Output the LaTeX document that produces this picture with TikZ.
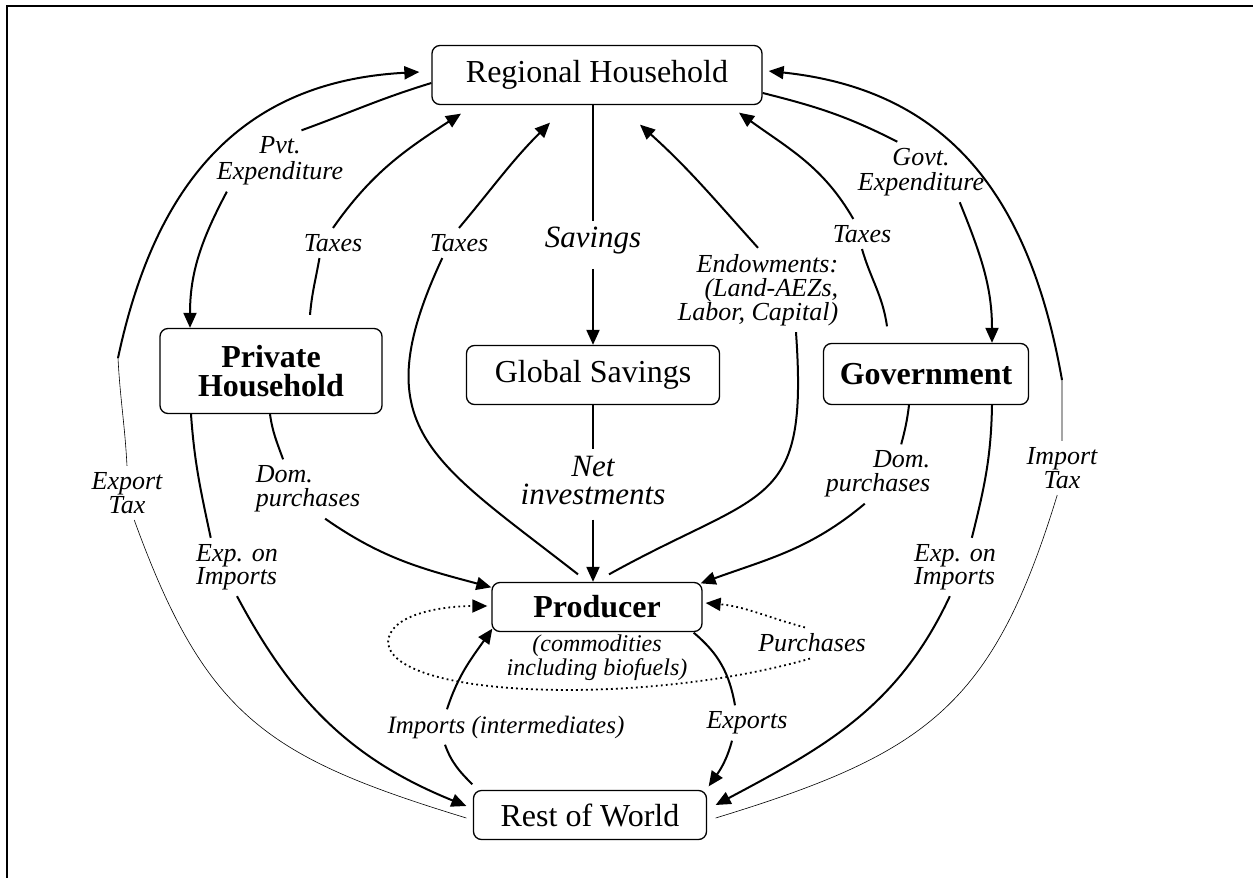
\documentclass[tikz,border=0pt]{standalone}
\usepackage{fontspec}
\setmainfont{Liberation Serif}
\usetikzlibrary{arrows.meta,positioning}
\tikzset{
    %Define standard arrow tip
    >={Triangle[length=7.5pt,width=6.5pt]},
    %Define style for boxes
    box/.style={
           rectangle, rounded corners=4pt,
           draw=black, line width=0.65pt,
           font=\fontsize{16}{14.5}\selectfont,
           align=center,
           inner sep=0pt},
    boldbox/.style={
           box,
           font=\fontsize{16}{14.5}\selectfont\bfseries},
    % Define style for labels on the flows
    lbl/.style={
           font=\itshape\fontsize{13}{12}\selectfont,
           align=center,
           inner sep=3pt},
    lbig/.style={
           lbl,
           font=\itshape\fontsize{15.5}{14}\selectfont},
    % Define arrow styles
    flow/.style={
           ->,
           line width=1pt},
    thinflow/.style={
           line width=0.3pt},
    dotflow/.style={
           ->,
           line width=0.9pt,
           dash pattern=on 0.9pt off 1.6pt}
}

\begin{document}
\begin{tikzpicture}[x=0.5pt, y=0.5pt]

\useasboundingbox (0,0) rectangle (1253,-878);
\draw[line width=0.8pt] (7,-878) -- (7,-6) -- (1253,-6);

%nodes
\node[box, minimum width=165pt, minimum height=29.5pt] (rh) at (597,-75) {Regional Household};
\node[boldbox, minimum width=111pt, minimum height=42.5pt] (ph) at (271,-371) {Private\\Household};
\node[box, minimum width=126.5pt, minimum height=29.5pt] (gs) at (593,-375) {Global Savings};
\node[boldbox, minimum width=102.5pt, minimum height=30.5pt] (gv) at (926,-374) {Government};
\node[boldbox, minimum width=105pt, minimum height=24.5pt] (pr) at (597,-607) {Producer};
\node[box, minimum width=116.5pt, minimum height=24.5pt] (rw) at (590,-815) {Rest of World};
\node[lbl, below=0pt of pr, inner sep=1pt, font=\itshape\fontsize{12}{11}\selectfont] (prnote) {(commodities\\including biofuels)};

%labels
\node[lbl, font=\itshape\fontsize{13}{13}\selectfont] (lpvt) at (280,-161) {Pvt.\\Expenditure};
\node[lbl] (ltaxa) at (333,-243) {Taxes};
\node[lbl] (ltaxb) at (459,-243) {Taxes};
\node[lbig] (lsav) at (593,-241) {Savings};
\node[lbl, align=right, font=\itshape\fontsize{13}{12}\selectfont] (lend) at (758,-290) {Endowments:\\(Land-AEZs,\\Labor, Capital)};
\node[lbl] (ltaxc) at (862,-234) {Taxes};
\node[lbl, font=\itshape\fontsize{13}{12.5}\selectfont] (lgovt) at (921,-172) {Govt.\\Expenditure};
\node[lbl] (lexpt) at (127,-493) {Export\\Tax};
\node[lbl, align=left, font=\itshape\fontsize{13}{11.5}\selectfont] (leia) at (237,-567) {Exp. on\\Imports};
\node[lbl, align=left] (ldpa) at (308,-489) {Dom.\\purchases};
\node[lbig] (lnet) at (593,-480) {Net\\investments};
\node[lbl, align=right] (ldpb) at (878,-474) {Dom.\\purchases};
\node[lbl] (limpt) at (1062,-468) {Import\\Tax};
\node[lbl, align=left, font=\itshape\fontsize{13}{11.5}\selectfont] (leib) at (955,-567) {Exp. on\\Imports};
\node[lbl] (lpur) at (812,-643) {Purchases};
\node[lbl, font=\itshape\fontsize{12.5}{12}\selectfont] (limp) at (506,-727) {Imports (intermediates)};
\node[lbl] (lexp) at (747,-723) {Exports};

\coordinate (xt) at (118,-358);
\coordinate (xi) at (1062,-380);
\coordinate (loopw) at (388,-643);

% savings and investments
\draw[flow, shorten <=4pt] (rh.south -| gs.north) -- (lsav) -- (gs.north);
\draw[flow, shorten <=4.5pt] (gs.south) -- (lnet) -- (pr.north -| gs.south);

% expenditure
\draw[flow] ([shift={(0,-8)}]rh.west) to[out=197,in=20] (lpvt.55)
            (lpvt.210) to[out=-118,in=90] ([shift={(-81,0)}]ph.north);
\draw[flow] ([shift={(0,-18)}]rh.east) to[out=-14,in=153] (lgovt.128)
            (lgovt.-38) to[out=-68,in=90] ([shift={(66,0)}]gv.north);

% taxes and endowments
\draw[flow] ([shift={(39,13)}]ph.north) to[out=85,in=-100] (ltaxa.228)
            (ltaxa.north) to[out=55,in=213] ([shift={(-136,-8.5)}]rh.south);
\draw[flow] ([shift={(-19,7.5)}]pr.north) to[out=142,in=245,looseness=1.4] (ltaxb.222)
            (ltaxb.north) to[out=50,in=225] ([shift={(-47,-17.5)}]rh.south);
\draw[flow] ([shift={(12,7.5)}]pr.north) to[out=29,in=-86,looseness=1.5] (lend.312)
            (lend.north) to[out=132,in=-42] ([shift={(43,-19.5)}]rh.south);
\draw[flow] ([shift={(-39,16.5)}]gv.north) to[out=98,in=-74] (ltaxc.south)
            (ltaxc.120) to[out=120,in=-36] ([shift={(142,-7.5)}]rh.south);

% export and import tax
\draw[thinflow] ([shift={(-6.5,-3)}]rw.west) to[out=163,in=-70,looseness=1.2] (lexpt.-75)
                (lexpt.north) to[out=93,in=-87] (xt);
\draw[flow] (xt) to[out=78,in=183,looseness=1.1] ([shift={(-12,3)}]rh.west);
\draw[thinflow] ([shift={(8.5,-3)}]rw.east) to[out=17,in=-107,looseness=1.2] (limpt.260)
                (limpt.north) to[out=90,in=-90] (xi);
\draw[flow] (xi) to[out=100,in=-6,looseness=1.1] ([shift={(6,4)}]rh.east);

% purchases of households and government
\draw[flow] ([shift={(-80,0)}]ph.south) to[out=-86,in=102] (leia.132)
            (leia.south) to[out=-62,in=158] ([shift={(-6.5,9)}]rw.west);
\draw[flow] ([shift={(-1,0)}]ph.south) to[out=-82,in=110] (ldpa.130)
            (ldpa.-60) to[out=-35,in=165] ([shift={(0,-5.5)}]pr.north west);
\draw[flow] ([shift={(-17,0)}]gv.south) to[out=-97,in=75] (ldpb.52)
            (ldpb.246) to[out=-140,in=20] ([shift={(-2,-1.5)}]pr.north east);
\draw[flow] ([shift={(66,0)}]gv.south) to[out=-91,in=76] (leib.60)
            (leib.-100) to[out=-115,in=28] ([shift={(8.5,10)}]rw.east);

% trade of the producer
\draw[flow] ([shift={(-0.5,5.5)}]rw.north west) to[out=135,in=-70] ([shift={(-61,0)}]limp.south)
            ([shift={(-59,0)}]limp.north) to[out=72,in=-125] ([shift={(1,3.5)}]pr.south west);
\draw[flow] ([shift={(-9,-0.5)}]pr.south east) to[out=-40,in=100] ([shift={(-12,0)}]lexp.north)
            ([shift={(-15,0)}]lexp.south) to[out=-105,in=55] ([shift={(1.5,3.5)}]rw.north east);

% intermediate purchases
\draw[dotflow] ([shift={(-7,0)}]lpur.north) to[out=165,in=-5] ([shift={(3,4)}]pr.east);
\draw[dotflow] ([shift={(-2,0)}]lpur.south) .. controls (650,-705) and (395,-700) .. (loopw)
               .. controls (388,-615) and (440,-606) .. ([shift={(-4,1)}]pr.west);

\end{tikzpicture}
\end{document}
